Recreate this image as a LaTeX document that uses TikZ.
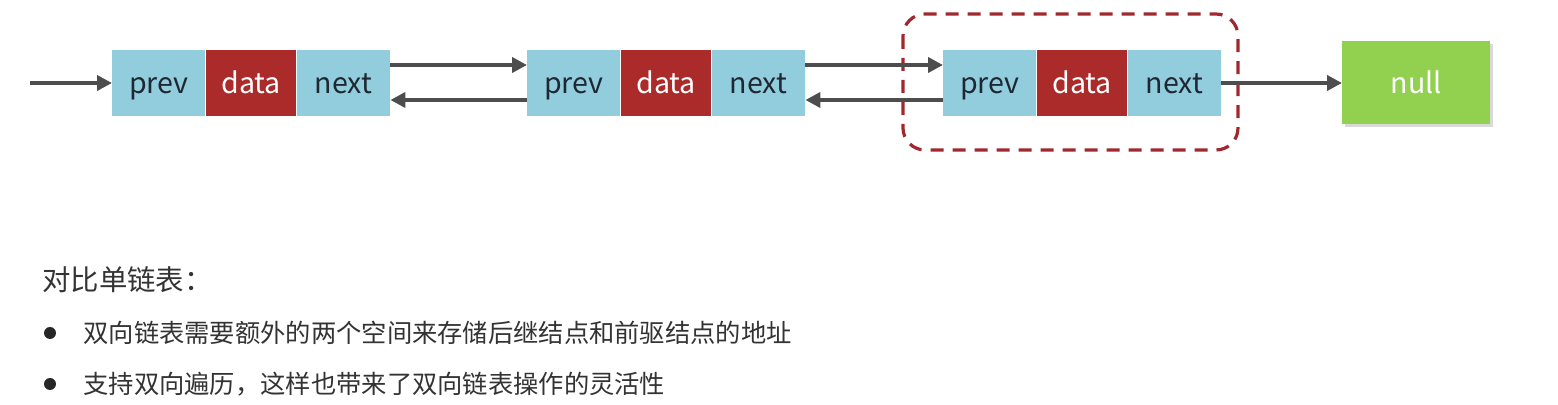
\documentclass[tikz,border=0pt]{standalone}
\usepackage{fontspec}
\setmainfont{Noto Sans CJK SC}
\usepackage{xcolor}
\usetikzlibrary{positioning, arrows.meta, shadows}
\definecolor{cellblue}{RGB}{146,205,221}
\definecolor{datared}{RGB}{171,42,42}
\definecolor{nullgreen}{RGB}{146,208,80}
\definecolor{linkgray}{RGB}{77,77,77}
\definecolor{boxred}{RGB}{160,40,46}
\definecolor{textgray}{RGB}{51,51,51}
\definecolor{celltext}{RGB}{30,40,50}
\tikzset{
    cell/.style={inner sep=0pt, minimum height=33pt, text height=11pt, text depth=0pt,
        font=\fontsize{14.3}{17}\selectfont},
    ptrcell/.style={cell, fill=cellblue, text=celltext, minimum width=46.5pt},
    datacell/.style={cell, fill=datared, text=white, minimum width=45pt},
    nullnode/.style={cell, fill=nullgreen, text=white, minimum width=74pt, minimum height=41.5pt,
        drop shadow={shadow xshift=1.5pt, shadow yshift=-1.5pt, opacity=0.3}},
    link/.style={-{Triangle[length=7.5pt, width=7.5pt]}, line width=2.2pt, linkgray},
    groupbox/.style={draw=boxred, line width=1.6pt, dash pattern=on 6.5pt off 4.5pt, rounded corners=11pt},
    % text styles
    heading/.style={anchor=west, inner sep=0pt, text=textgray, font=\fontsize{14.2}{17}\selectfont},
    item/.style={anchor=west, inner sep=0pt, text=textgray, font=\fontsize{12.65}{15}\selectfont},
    bullet/.style={circle, fill=black!85, inner sep=0pt, minimum size=6pt}
}
\begin{document}
\begin{tikzpicture}[x=0.5pt, y=-0.5pt]
    \useasboundingbox (0,0) rectangle (1558,405);

    % Three list nodes: prev | data | next
    \foreach \i/\x in {1/112, 2/527, 3/943} {
        \node[ptrcell, anchor=west] (p\i) at (\x,83) {prev};
        \node[datacell, right=0pt of p\i] (d\i) {data};
        \node[ptrcell, right=0pt of d\i] (n\i) {next};
    }
    \node[nullnode, anchor=west] (null) at (1342,83) {null};

    % Highlight of the last node
    \draw[groupbox] (903,14) rectangle (1238,150);

    % Links
    \coordinate (head) at (30,83);
    \draw[link] (head) -- (p1.west);
    \foreach \a/\b in {1/2, 2/3} {
        \draw[link] ([yshift=9pt]n\a.east) -- ([yshift=9pt]p\b.west);
        \draw[link] ([yshift=-8.5pt]p\b.west) -- ([yshift=-8.5pt]n\a.east);
    }
    \draw[link] (n3.east) -- (null.west);

    % Notes
    \node[heading] (title) at (42,280) {对比单链表：};
    \node[bullet] (b1) at (50,333) {};
    \node[item] (t1) at (83,333) {双向链表需要额外的两个空间来存储后继结点和前驱结点的地址};
    \node[bullet] (b2) at (50,384) {};
    \node[item] (t2) at (83,384) {支持双向遍历，这样也带来了双向链表操作的灵活性};
\end{tikzpicture}
\end{document}
